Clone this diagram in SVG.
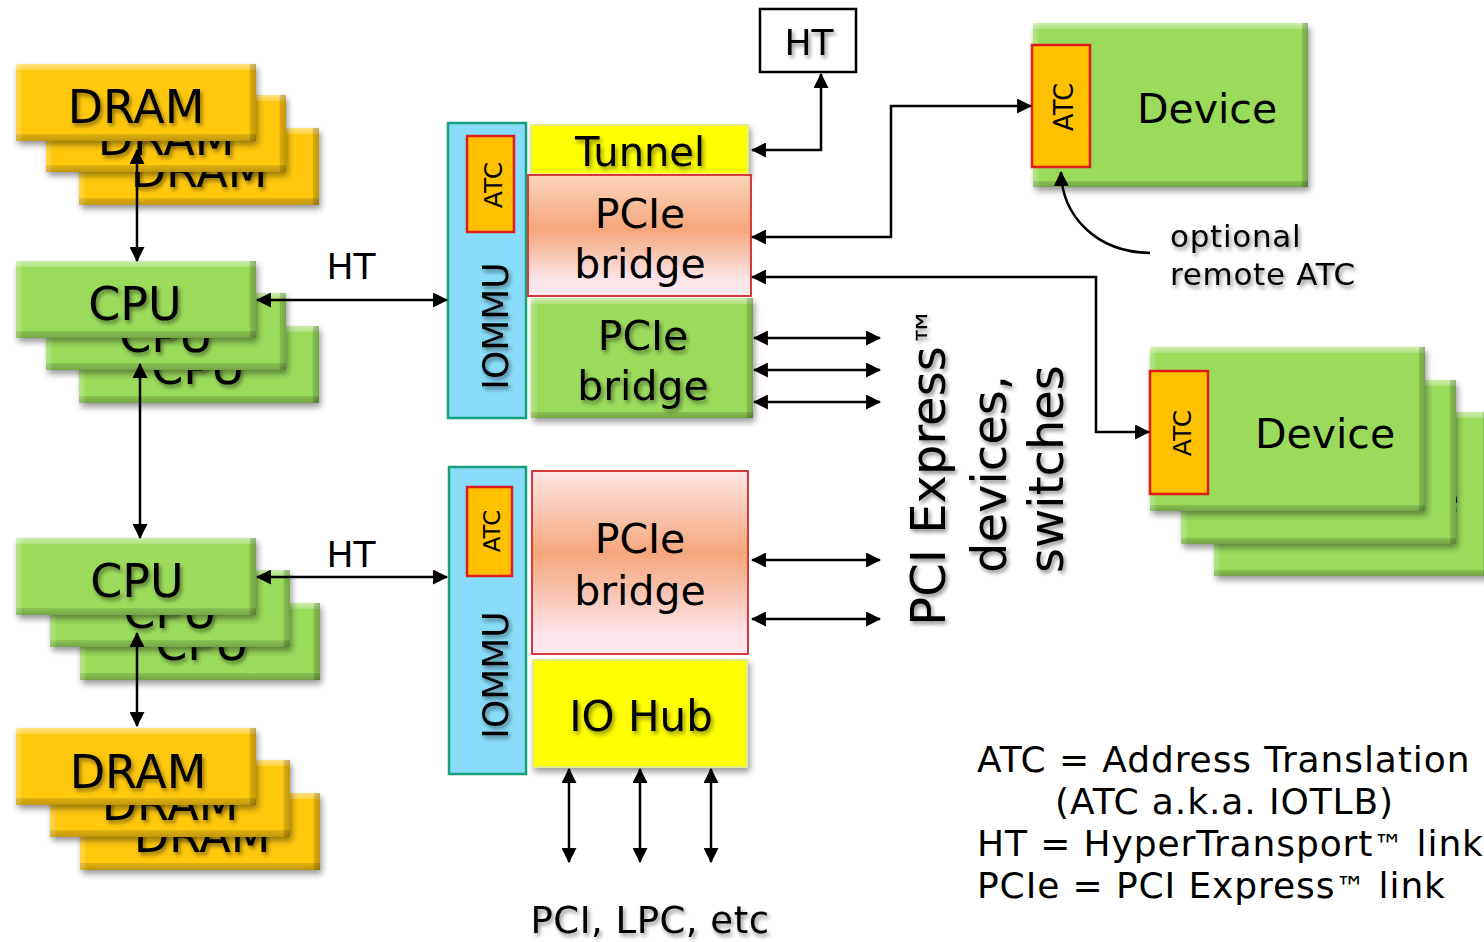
<svg xmlns="http://www.w3.org/2000/svg" width="1484" height="942" viewBox="0 0 1484 942">
<defs>
<style>
text{font-family:"DejaVu Sans",Verdana,"Liberation Sans",sans-serif;fill:#000}
.c{text-anchor:middle}
.ln{fill:none;stroke:#000;stroke-width:2.5;marker-start:url(#ah);marker-end:url(#ah)}
.one{fill:none;stroke:#000;stroke-width:2.5;marker-end:url(#ah)}
.atc{fill:#ffc000;stroke:#e21b1b;stroke-width:2.5}
.iommu{fill:#88dcf9;stroke:#17a079;stroke-width:2.5}
.yel{fill:#ffff00;stroke:#e2ec8a;stroke-width:2}
.f46{font-size:46px}
.leg{font-size:36px;letter-spacing:0.9px}
</style>
<marker id="ah" viewBox="0 0 14 14" refX="13" refY="7" markerWidth="15" markerHeight="15" markerUnits="userSpaceOnUse" orient="auto-start-reverse"><path d="M0,0 L14,7 L0,14 z" fill="#000"/></marker>
<filter id="bs" x="-10%" y="-15%" width="125%" height="140%">
<feGaussianBlur in="SourceAlpha" stdDeviation="3"/><feOffset dx="2" dy="4"/>
<feComponentTransfer><feFuncA type="linear" slope="0.4"/></feComponentTransfer>
<feMerge><feMergeNode/><feMergeNode in="SourceGraphic"/></feMerge>
</filter>
<filter id="ts" x="-15%" y="-25%" width="135%" height="160%">
<feGaussianBlur in="SourceAlpha" stdDeviation="2"/><feOffset dx="2" dy="3"/>
<feComponentTransfer><feFuncA type="linear" slope="0.45"/></feComponentTransfer>
<feMerge><feMergeNode/><feMergeNode in="SourceGraphic"/></feMerge>
</filter>
<linearGradient id="bv" x1="0" y1="0" x2="0" y2="1">
<stop offset="0" stop-color="#fff" stop-opacity=".5"/><stop offset=".075" stop-color="#fff" stop-opacity=".2"/><stop offset=".08" stop-color="#fff" stop-opacity="0"/>
<stop offset=".91" stop-color="#000" stop-opacity="0"/><stop offset=".915" stop-color="#000" stop-opacity=".12"/><stop offset="1" stop-color="#000" stop-opacity=".25"/>
</linearGradient>
<linearGradient id="bh" x1="0" y1="0" x2="1" y2="0">
<stop offset="0" stop-color="#fff" stop-opacity=".25"/><stop offset=".024" stop-color="#fff" stop-opacity=".1"/><stop offset=".026" stop-color="#fff" stop-opacity="0"/>
<stop offset=".972" stop-color="#000" stop-opacity="0"/><stop offset=".975" stop-color="#000" stop-opacity=".14"/><stop offset="1" stop-color="#000" stop-opacity=".25"/>
</linearGradient>
<linearGradient id="bvD" x1="0" y1="0" x2="0" y2="1">
<stop offset="0" stop-color="#fff" stop-opacity=".5"/><stop offset=".035" stop-color="#fff" stop-opacity=".2"/><stop offset=".038" stop-color="#fff" stop-opacity="0"/>
<stop offset=".96" stop-color="#000" stop-opacity="0"/><stop offset=".963" stop-color="#000" stop-opacity=".12"/><stop offset="1" stop-color="#000" stop-opacity=".25"/>
</linearGradient>
<linearGradient id="bhD" x1="0" y1="0" x2="1" y2="0">
<stop offset="0" stop-color="#fff" stop-opacity=".25"/><stop offset=".021" stop-color="#fff" stop-opacity=".1"/><stop offset=".023" stop-color="#fff" stop-opacity="0"/>
<stop offset=".977" stop-color="#000" stop-opacity="0"/><stop offset=".979" stop-color="#000" stop-opacity=".14"/><stop offset="1" stop-color="#000" stop-opacity=".25"/>
</linearGradient>
<linearGradient id="bvP" x1="0" y1="0" x2="0" y2="1">
<stop offset="0" stop-color="#fff" stop-opacity=".5"/><stop offset=".048" stop-color="#fff" stop-opacity=".2"/><stop offset=".052" stop-color="#fff" stop-opacity="0"/>
<stop offset=".945" stop-color="#000" stop-opacity="0"/><stop offset=".95" stop-color="#000" stop-opacity=".12"/><stop offset="1" stop-color="#000" stop-opacity=".25"/>
</linearGradient>
<linearGradient id="bhP" x1="0" y1="0" x2="1" y2="0">
<stop offset="0" stop-color="#fff" stop-opacity=".25"/><stop offset=".026" stop-color="#fff" stop-opacity=".1"/><stop offset=".028" stop-color="#fff" stop-opacity="0"/>
<stop offset=".97" stop-color="#000" stop-opacity="0"/><stop offset=".973" stop-color="#000" stop-opacity=".14"/><stop offset="1" stop-color="#000" stop-opacity=".25"/>
</linearGradient>
<linearGradient id="orT" x1="0" y1="0" x2="0" y2="1">
<stop offset="0" stop-color="#fcd5bb"/><stop offset=".45" stop-color="#f6a67a"/><stop offset=".85" stop-color="#fbe3e6"/><stop offset="1" stop-color="#fdeaf0"/>
</linearGradient>
<linearGradient id="orB" x1="0" y1="0" x2="0" y2="1">
<stop offset="0" stop-color="#fde6e6"/><stop offset=".45" stop-color="#f6a67a"/><stop offset=".9" stop-color="#fce5ec"/><stop offset="1" stop-color="#fde9ef"/>
</linearGradient>
<g id="gS"><rect width="240" height="77" fill="#9bdb5c"/><rect width="240" height="77" fill="url(#bv)"/><rect width="240" height="77" fill="url(#bh)"/></g>
<g id="yS"><rect width="240" height="77" fill="#ffc80c"/><rect width="240" height="77" fill="url(#bv)"/><rect width="240" height="77" fill="url(#bh)"/></g>
<g id="gD"><rect width="275" height="164" fill="#9bdb5c"/><rect width="275" height="164" fill="url(#bvD)"/><rect width="275" height="164" fill="url(#bhD)"/></g>
<g id="gP"><rect width="222" height="120" fill="#9bdb5c"/><rect width="222" height="120" fill="url(#bvP)"/><rect width="222" height="120" fill="url(#bhP)"/></g>
</defs>

<rect width="1484" height="942" fill="#fff"/>

<g id="dram-top">
<use href="#yS" x="79" y="128" filter="url(#bs)"/>
<text class="c f46" x="199" y="187" filter="url(#ts)">DRAM</text>
<use href="#yS" x="46" y="95" filter="url(#bs)"/>
<text class="c f46" x="166" y="155" filter="url(#ts)">DRAM</text>
<use href="#yS" x="16" y="64" filter="url(#bs)"/>
<text class="c f46" x="136" y="123" filter="url(#ts)">DRAM</text>
</g>

<g id="cpu-top">
<use href="#gS" x="79" y="326" filter="url(#bs)"/>
<text class="c f46" x="198" y="384" filter="url(#ts)">CPU</text>
<use href="#gS" x="46" y="293" filter="url(#bs)"/>
<text class="c f46" x="166" y="352" filter="url(#ts)">CPU</text>
<use href="#gS" x="16" y="261" filter="url(#bs)"/>
<text class="c f46" x="135" y="320" filter="url(#ts)">CPU</text>
</g>

<g id="cpu-bottom">
<use href="#gS" x="80" y="603" filter="url(#bs)"/>
<text class="c f46" x="202" y="660" filter="url(#ts)">CPU</text>
<use href="#gS" x="50" y="570" filter="url(#bs)"/>
<text class="c f46" x="170" y="628" filter="url(#ts)">CPU</text>
<use href="#gS" x="16" y="538" filter="url(#bs)"/>
<text class="c f46" x="137" y="597" filter="url(#ts)">CPU</text>
</g>

<g id="dram-bottom">
<use href="#yS" x="80" y="793" filter="url(#bs)"/>
<text class="c f46" x="202" y="852" filter="url(#ts)">DRAM</text>
<use href="#yS" x="50" y="760" filter="url(#bs)"/>
<text class="c f46" x="170" y="820" filter="url(#ts)">DRAM</text>
<use href="#yS" x="16" y="728" filter="url(#bs)"/>
<text class="c f46" x="138" y="788" filter="url(#ts)">DRAM</text>
</g>

<g id="iommu-top">
<rect class="iommu" x="448" y="123" width="78" height="295"/>
<rect class="atc" x="467" y="136" width="47" height="96"/>
<text class="c" font-size="25" transform="translate(502,185) rotate(-90)">ATC</text>
<g filter="url(#ts)"><text class="c" font-size="36" transform="translate(508,326) rotate(-90)">IOMMU</text></g>
</g>

<g id="tunnel">
<rect class="yel" x="531" y="125" width="217" height="49" filter="url(#bs)"/>
<text class="c" font-size="40" x="640" y="166" filter="url(#ts)">Tunnel</text>
</g>

<g id="pcie-bridge-top">
<rect x="528" y="175" width="223" height="121" fill="url(#orT)" stroke="#d83a3a" stroke-width="2"/>
<text class="c" font-size="41" x="640" y="228">PCIe</text>
<text class="c" font-size="41" x="640" y="278">bridge</text>
</g>

<g id="pcie-bridge-green">
<use href="#gP" x="531" y="298" filter="url(#bs)"/>
<text class="c" font-size="41" x="643" y="350" filter="url(#ts)">PCIe</text>
<text class="c" font-size="41" x="643" y="400" filter="url(#ts)">bridge</text>
</g>

<g id="iommu-bottom">
<rect class="iommu" x="449" y="467" width="77" height="307"/>
<rect class="atc" x="467" y="487" width="45" height="89"/>
<text class="c" font-size="23" transform="translate(500,531) rotate(-90)">ATC</text>
<g filter="url(#ts)"><text class="c" font-size="36" transform="translate(508,675) rotate(-90)">IOMMU</text></g>
</g>

<g id="pcie-bridge-bottom">
<rect x="532" y="471" width="216" height="183" fill="url(#orB)" stroke="#d83a3a" stroke-width="2"/>
<text class="c" font-size="41" x="640" y="553">PCIe</text>
<text class="c" font-size="41" x="640" y="605">bridge</text>
</g>

<g id="io-hub">
<rect class="yel" x="533" y="660" width="214" height="107" filter="url(#bs)"/>
<text class="c" font-size="42" x="641" y="731" filter="url(#ts)">IO Hub</text>
</g>

<g id="ht-box">
<rect x="760" y="9" width="96" height="63" fill="#fff" stroke="#000" stroke-width="2.5"/>
<text class="c" font-size="36" x="809" y="55" filter="url(#ts)">HT</text>
</g>

<g id="device-top">
<use href="#gD" x="1033" y="23" filter="url(#bs)"/>
<rect class="atc" x="1032" y="45" width="58" height="122"/>
<text class="c" font-size="26" transform="translate(1073,107) rotate(-90)">ATC</text>
<text class="c" font-size="41" x="1207" y="123">Device</text>
</g>

<g id="device-stack">
<use href="#gD" x="1214" y="412" filter="url(#bs)"/>
<text class="c" font-size="41" x="1389" y="513">Device</text>
<use href="#gD" x="1181" y="380" filter="url(#bs)"/>
<text class="c" font-size="41" x="1356" y="481">Device</text>
<use href="#gD" x="1150" y="347" filter="url(#bs)"/>
<rect class="atc" x="1150" y="371" width="58" height="123"/>
<text class="c" font-size="25" transform="translate(1191,433) rotate(-90)">ATC</text>
<text class="c" font-size="41" x="1325" y="448">Device</text>
</g>

<g id="connectors">
<path class="ln" d="M137,150 V261"/>
<path class="ln" d="M140,364 V538"/>
<path class="ln" d="M137,633 V726"/>
<path class="ln" d="M257,300 H447"/>
<path class="ln" d="M257,577 H447"/>
<path class="ln" d="M821,74 V150 H752"/>
<path class="ln" d="M752,237 H891 V106 H1031"/>
<path class="ln" d="M752,277 H1096 V432 H1149"/>
<path class="ln" d="M754,338 H880"/>
<path class="ln" d="M754,370 H880"/>
<path class="ln" d="M754,402 H880"/>
<path class="ln" d="M752,560 H880"/>
<path class="ln" d="M752,619 H880"/>
<path class="ln" d="M569,769 V862"/>
<path class="ln" d="M640,769 V862"/>
<path class="ln" d="M711,769 V862"/>
<path class="one" d="M1150,253 C1095,252 1062,215 1061,172"/>
</g>

<g id="labels">
<text class="c" font-size="36" x="351" y="279">HT</text>
<text class="c" font-size="36" x="351" y="567">HT</text>
<g filter="url(#ts)">
<text class="c" font-size="48" transform="translate(945,466) rotate(-90)">PCI Express<tspan font-size="40">™</tspan></text>
<text class="c" font-size="48" transform="translate(1006,474) rotate(-90)">devices,</text>
<text class="c" font-size="48" transform="translate(1063,469) rotate(-90)">switches</text>
</g>
<text font-size="31" letter-spacing="0.7" x="1170" y="247" filter="url(#ts)">optional</text>
<text font-size="31" letter-spacing="0.7" x="1170" y="285" filter="url(#ts)">remote ATC</text>
<text class="c" font-size="37" letter-spacing="0.5" x="650" y="933" filter="url(#ts)">PCI, LPC, etc</text>
</g>

<g id="legend">
<text class="leg" x="977" y="772">ATC = Address Translation</text>
<text class="leg" x="1055" y="814">(ATC a.k.a. IOTLB)</text>
<text class="leg" x="977" y="856">HT = HyperTransport<tspan font-size="30">™</tspan> link</text>
<text class="leg" x="977" y="898">PCIe = PCI Express<tspan font-size="30">™</tspan> link</text>
</g>
</svg>
